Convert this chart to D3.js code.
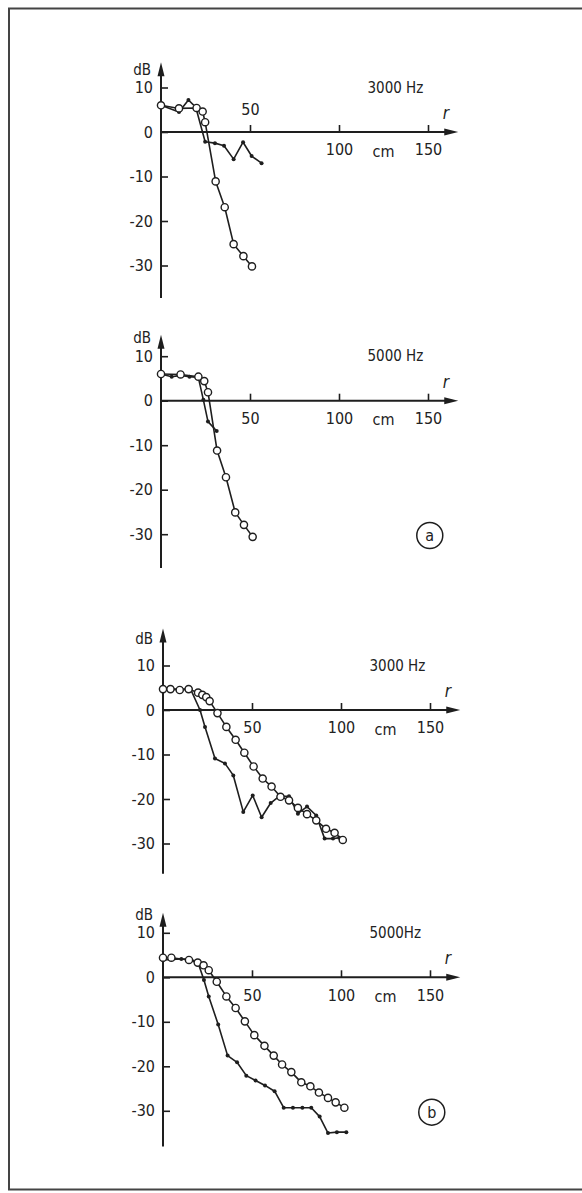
<!DOCTYPE html>
<html>
<head>
<meta charset="utf-8">
<script src="https://cdn.jsdelivr.net/npm/d3@7"></script>
<style>
  body { margin: 0; background: #fff; }
  svg text { font-family: "DejaVu Sans Condensed", "DejaVu Sans", sans-serif; font-stretch: condensed; fill: #222; }
</style>
</head>
<body>
<div id="chart"></div>
<script>
// axis ticks
var rTicks = [50, 100, 150];
var dbTicks = [10, 0, -10, -20, -30];
var freqLabels = ["3000 Hz", "5000 Hz", "3000 Hz", "5000Hz"];
var caseLabels = ["", "a", "", "b"];

// (a) 3000 Hz
var a3kCircR  = [0, 10.1, 20, 23.4, 24.8, 30.7, 35.8, 40.8, 46.3, 51.1];
var a3kCircDb = [6.0, 5.3, 5.4, 4.6, 2.2, -11.1, -16.9, -25.2, -27.9, -30.2];
var a3kDotR   = [0, 10.1, 15.4, 19.5, 24.8, 30.3, 35.4, 40.8, 46.1, 50.9, 56.5];
var a3kDotDb  = [6.0, 4.5, 7.2, 5.6, -2.2, -2.5, -3.1, -6.1, -2.3, -5.4, -7.0];

// (a) 5000 Hz
var a5kCircR  = [0, 11, 21, 24.3, 26.4, 31.5, 36.5, 41.7, 46.6, 51.5];
var a5kCircDb = [6.0, 5.9, 5.4, 4.4, 1.9, -11.2, -17.2, -25.1, -27.9, -30.6];
var a5kDotR   = [0, 6, 11, 16, 21, 23.8, 26.4, 31.3];
var a5kDotDb  = [6.0, 5.4, 5.7, 5.4, 5.2, 0.2, -4.7, -6.8];

// (b) 3000 Hz
var b3kCircR  = [0, 4.2, 9.4, 14.4, 19.7, 22.1, 24.3, 26.2, 30.6, 35.6, 40.8, 45.7, 50.9, 56, 61, 66, 70.8, 75.8, 80.9, 86.1, 91.6, 96.4, 101];
var b3kCircDb = [4.7, 4.7, 4.5, 4.7, 3.9, 3.4, 2.9, 2.0, -0.7, -3.8, -6.7, -9.6, -12.7, -15.4, -17.2, -19.5, -20.3, -22.0, -23.4, -24.8, -26.7, -27.6, -29.2];
var b3kDotR   = [0, 5, 10, 15.5, 20.8, 23.6, 29.2, 34.8, 39.5, 45.1, 50.4, 55.4, 60.5, 65.2, 70.8, 75.8, 80.9, 86.1, 90.8, 95.5, 99];
var b3kDotDb  = [4.7, 4.7, 4.7, 4.7, 0.0, -3.8, -10.9, -12.0, -14.7, -22.9, -19.2, -24.1, -20.9, -19.4, -19.4, -23.3, -21.7, -23.7, -28.9, -28.9, -28.7];

// (b) 5000 Hz
var b5kCircR  = [0, 4.7, 14.6, 19.5, 22.8, 25.7, 30.2, 35.6, 40.8, 46, 51.3, 57, 62.2, 66.9, 72.1, 77.7, 82.8, 87.6, 92.7, 97, 101.9];
var b5kCircDb = [4.4, 4.4, 3.9, 3.3, 2.7, 1.6, -1.0, -4.3, -6.9, -9.9, -13.0, -15.4, -17.6, -19.6, -21.3, -23.6, -24.5, -25.9, -27.1, -28.1, -29.3];
var b5kDotR   = [0, 10.3, 14.6, 19.5, 23, 25.7, 31, 36.3, 41.6, 46.8, 52, 57.3, 62.7, 67.8, 73, 78.3, 83.3, 88, 92.7, 97.7, 103];
var b5kDotDb  = [3.9, 4.1, 4.1, 3.5, -0.6, -4.3, -10.6, -17.6, -19.1, -22.1, -23.2, -24.3, -25.6, -29.3, -29.3, -29.3, -29.3, -31.3, -35.0, -34.8, -34.8];

var W = 582, H = 1193;
var pxPerCm = 1.78, pxPerDb = 4.45;

var panels = [
    {x0: 161, y0: 132,   top: 15.7, bottom: -37.3, dbY: 70,  fiftyAbove: true,
     circR: a3kCircR, circDb: a3kCircDb, dotR: a3kDotR, dotDb: a3kDotDb},
    {x0: 161, y0: 400.7, top: 14.8, bottom: -37.6, dbY: 338, fiftyAbove: false,
     circR: a5kCircR, circDb: a5kCircDb, dotR: a5kDotR, dotDb: a5kDotDb},
    {x0: 163, y0: 710,   top: 18.3, bottom: -36.8, dbY: 639, fiftyAbove: false,
     circR: b3kCircR, circDb: b3kCircDb, dotR: b3kDotR, dotDb: b3kDotDb},
    {x0: 163, y0: 977.3, top: 14.5, bottom: -38,   dbY: 915, fiftyAbove: false,
     circR: b5kCircR, circDb: b5kCircDb, dotR: b5kDotR, dotDb: b5kDotDb}
];

var svg = d3.select("#chart")
    .append("svg")
    .attr("width", W)
    .attr("height", H);

// frame
svg.append("path")
    .attr("d", "M" + W + ",8.5 L9,8.5 L9,1189.5 L" + W + ",1189.5")
    .attr("fill", "none")
    .attr("stroke", "#444")
    .attr("stroke-width", 2);

var ink = "#1e1e1e";

panels.forEach(function (p, i) {
    var x = d3.scaleLinear()
        .domain([0, 150])
        .range([p.x0, p.x0 + 150 * pxPerCm]);
    var y = d3.scaleLinear()
        .domain([0, 10])
        .range([p.y0, p.y0 - 10 * pxPerDb]);

    var g = svg.append("g");

    // y axis, ticks point right
    var yAxis = d3.axisLeft(y)
        .tickValues(dbTicks)
        .tickSize(-7)
        .tickPadding(8)
        .tickFormat(function (d) { return d < 0 ? "-" + (-d) : d; });
    var ya = g.append("g")
        .attr("transform", "translate(" + p.x0 + ",0)")
        .call(yAxis);
    ya.select(".domain").remove();
    ya.selectAll("line").attr("stroke", ink).attr("stroke-width", 1.6);
    ya.selectAll("text")
        .style("font-size", "16px")
        .attr("fill", ink);

    // x axis, ticks point up
    var xAxis = d3.axisBottom(x)
        .tickValues(rTicks)
        .tickSize(-7)
        .tickPadding(12);
    var xa = g.append("g")
        .attr("transform", "translate(0," + p.y0 + ")")
        .call(xAxis);
    xa.select(".domain").remove();
    xa.selectAll("line").attr("stroke", ink).attr("stroke-width", 1.6);
    xa.selectAll("text")
        .style("font-size", "16px")
        .attr("fill", ink);
    if (p.fiftyAbove) {
        xa.selectAll(".tick")
            .filter(function (d) { return d == 50; })
            .select("text")
            .attr("y", -28);
    }

    // axis lines with arrows
    var xEnd = x(167);
    var yTop = y(p.top);
    g.append("line")
        .attr("x1", p.x0).attr("x2", xEnd - 6)
        .attr("y1", p.y0).attr("y2", p.y0)
        .attr("stroke", ink).attr("stroke-width", 2);
    g.append("path")
        .attr("d", "M" + xEnd + "," + p.y0 + " L" + (xEnd - 14) + "," + (p.y0 - 3.5) +
            " L" + (xEnd - 14) + "," + (p.y0 + 3.5) + " Z")
        .attr("fill", ink);
    g.append("line")
        .attr("x1", p.x0).attr("x2", p.x0)
        .attr("y1", y(p.bottom)).attr("y2", yTop + 6)
        .attr("stroke", ink).attr("stroke-width", 2);
    g.append("path")
        .attr("d", "M" + p.x0 + "," + yTop + " L" + (p.x0 - 3.5) + "," + (yTop + 14) +
            " L" + (p.x0 + 3.5) + "," + (yTop + 14) + " Z")
        .attr("fill", ink);

    // axis labels
    g.append("text")
        .attr("x", p.x0 - 10)
        .attr("y", p.dbY)
        .attr("dy", "0.35em")
        .attr("text-anchor", "end")
        .style("font-size", "15px")
        .text("dB");
    g.append("text")
        .attr("x", x(160))
        .attr("y", p.y0 - 19)
        .attr("dy", "0.35em")
        .attr("text-anchor", "middle")
        .style("font-size", "17px")
        .style("font-style", "italic")
        .text("r");
    g.append("text")
        .attr("x", x(125))
        .attr("y", p.y0 + 19)
        .attr("dy", "0.35em")
        .attr("text-anchor", "middle")
        .style("font-size", "16px")
        .text("cm");
    g.append("text")
        .attr("x", x(116))
        .attr("y", y(10))
        .attr("dy", "0.35em")
        .style("font-size", "15px")
        .text(freqLabels[i]);

    if (caseLabels[i] != "") {
        var cy = y(-30.3);
        g.append("circle")
            .attr("cx", x(151)).attr("cy", cy).attr("r", 13)
            .attr("fill", "none").attr("stroke", ink).attr("stroke-width", 1.5);
        g.append("text")
            .attr("x", x(151)).attr("y", cy)
            .attr("dy", "0.35em")
            .attr("text-anchor", "middle")
            .style("font-size", "16px")
            .text(caseLabels[i]);
    }

    // series
    var circPts = p.circR.map(function (r, k) { return [r, p.circDb[k]]; });
    var dotPts = p.dotR.map(function (r, k) { return [r, p.dotDb[k]]; });
    var line = d3.line()
        .x(function (d) { return x(d[0]); })
        .y(function (d) { return y(d[1]); });

    g.append("path")
        .attr("d", line(dotPts))
        .attr("fill", "none").attr("stroke", ink).attr("stroke-width", 1.6)
        .attr("stroke-linejoin", "round");
    g.append("path")
        .attr("d", line(circPts))
        .attr("fill", "none").attr("stroke", ink).attr("stroke-width", 1.6)
        .attr("stroke-linejoin", "round");

    g.selectAll(".dot")
        .data(dotPts)
        .enter()
        .append("circle")
        .attr("class", "dot")
        .attr("cx", function (d) { return x(d[0]); })
        .attr("cy", function (d) { return y(d[1]); })
        .attr("r", 2)
        .attr("fill", ink);

    g.selectAll(".ring")
        .data(circPts)
        .enter()
        .append("circle")
        .attr("class", "ring")
        .attr("cx", function (d) { return x(d[0]); })
        .attr("cy", function (d) { return y(d[1]); })
        .attr("r", 3.6)
        .attr("fill", "#fff")
        .attr("stroke", ink)
        .attr("stroke-width", 1.4);
});
</script>
</body>
</html>
